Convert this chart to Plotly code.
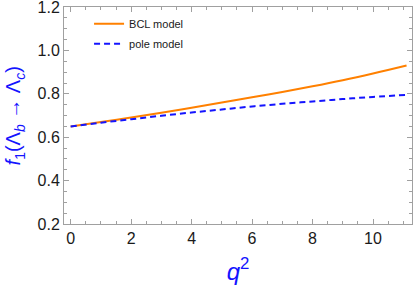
import plotly.graph_objects as go

q2 = [0, 1, 2, 3, 4, 5, 6, 7, 8, 9, 10, 11.11]
bcl = [0.650, 0.670, 0.691, 0.713, 0.736, 0.760, 0.784, 0.809, 0.835, 0.863, 0.894, 0.931]
pole = [0.650, 0.667, 0.683, 0.699, 0.714, 0.728, 0.742, 0.754, 0.765, 0.776, 0.786, 0.795]

x_ticks = [0, 2, 4, 6, 8, 10]
y_ticks = [0.2, 0.4, 0.6, 0.8, 1.0, 1.2]
y_ticklabels = ["0.2", "0.4", "0.6", "0.8", "1.0", "1.2"]

BLUE = "rgb(20,20,255)"
FONT = "Liberation Sans, Arial"

fig = go.Figure()
fig.add_trace(go.Scatter(x=q2, y=bcl, mode="lines", name="BCL model",
                         line=dict(color="rgb(255,128,0)", width=2, shape="spline"),
                         legendgroup="a"))
fig.add_trace(go.Scatter(x=q2, y=pole, mode="lines", name="pole model",
                         line=dict(color=BLUE, width=2, dash="6px,4px", shape="spline"),
                         legendgroup="b"))

axis_common = dict(
    showline=True, linecolor="#a0a0a0", linewidth=1, mirror="allticks",
    ticks="inside", ticklen=5, tickcolor="#a0a0a0", tickwidth=1,
    showgrid=False, zeroline=False, automargin=False, ticklabeloverflow="allow",
    tickfont=dict(family=FONT, size=16, color="#1a1a1a"),
)

fig.update_xaxes(
    range=[-0.22, 11.29], tickvals=x_ticks,
    minor=dict(dtick=0.5, ticks="inside", ticklen=3, tickcolor="#a0a0a0", showgrid=False),
    title=dict(text="<i>q</i><sup>2</sup>", font=dict(family=FONT, size=24, color=BLUE),
               standoff=16),
    **axis_common,
)
fig.update_yaxes(
    range=[0.2, 1.2005], tickvals=y_ticks, ticktext=y_ticklabels,
    minor=dict(dtick=0.05, ticks="inside", ticklen=3, tickcolor="#a0a0a0", showgrid=False),
    **axis_common,
)

fig.add_annotation(
    text="<i>f</i><sub>1</sub>(Λ<sub><i>b</i></sub> → Λ<sub><i>c</i></sub>)",
    xref="paper", yref="paper", x=-0.141, y=0.5, xanchor="center", yanchor="middle",
    textangle=-90, showarrow=False,
    font=dict(family=FONT, size=20, color=BLUE),
)

fig.update_layout(
    width=415, height=291,
    margin=dict(l=64, r=3, t=7, b=67),
    paper_bgcolor="white", plot_bgcolor="white",
    showlegend=True,
    legend=dict(x=0.072, y=0.99, xanchor="left", yanchor="top",
                bgcolor="rgba(0,0,0,0)", tracegroupgap=1,
                font=dict(family=FONT, size=11, color="#1a1a1a")),
)

fig.write_html("out.html", config={"displayModeBar": False},
               post_script="document.body.style.margin='0';")
